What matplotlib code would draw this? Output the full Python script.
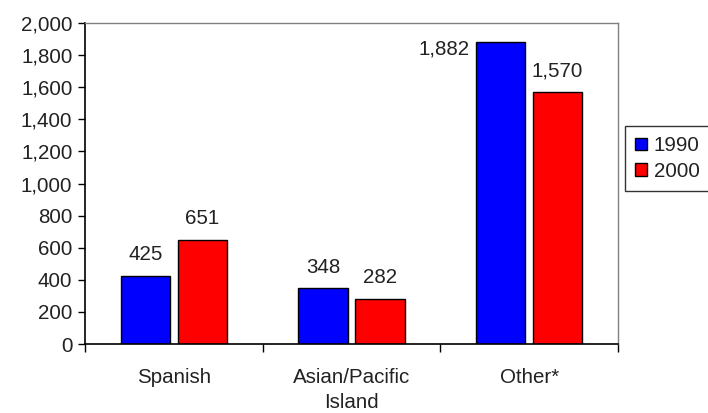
import matplotlib
matplotlib.use("Agg")
import matplotlib.pyplot as plt
import numpy as np
from matplotlib.ticker import FuncFormatter, FixedLocator

categories = ["Spanish", "Asian/Pacific\nIsland", "Other*"]
series_names = ["1990", "2000"]
values_1990 = [425, 348, 1882]
values_2000 = [651, 282, 1570]
yticks = list(range(0, 2001, 200))

plt.rcParams['font.family'] = ['Liberation Sans', 'DejaVu Sans']
FS = 14.8
TXT = '#222222'

fig = plt.figure(figsize=(7.08, 4.13), dpi=100)
ax = fig.add_axes([85/708, (413-344)/413, (618-85)/708, (344-23)/413])

x = np.arange(len(categories))
w = 0.276
gap = 0.045
off = (w + gap) / 2
b1 = ax.bar(x - off, values_1990, w, color='#0000ff', edgecolor='#000000', linewidth=1, label=series_names[0])
b2 = ax.bar(x + off, values_2000, w, color='#ff0000', edgecolor='#000000', linewidth=1, label=series_names[1])

ax.set_xlim(-0.5, len(categories) - 0.5)
ax.set_ylim(0, 2000)
ax.yaxis.set_major_locator(FixedLocator(yticks))
ax.yaxis.set_major_formatter(FuncFormatter(lambda v, p: f"{int(v):,}"))

# category boundary ticks
ax.set_xticks(np.arange(-0.5, len(categories)), minor=False)
ax.set_xticklabels([])
ax.set_xticks(x, minor=True)
ax.set_xticklabels(categories, minor=True, fontsize=FS, color=TXT, linespacing=1.45)
ax.tick_params(axis='x', which='major', direction='out', length=6, width=1, color='black')
ax.tick_params(axis='x', which='minor', length=0, pad=17)
ax.tick_params(axis='y', direction='out', length=5, width=1, color='black', labelsize=FS, labelcolor=TXT, pad=4)

for s in ['left', 'bottom']:
    ax.spines[s].set_color('black')
    ax.spines[s].set_linewidth(1.2)
for s in ['top', 'right']:
    ax.spines[s].set_color('#808080')
    ax.spines[s].set_linewidth(1)

# value labels
for i, (v1, v2) in enumerate(zip(values_1990, values_2000)):
    if v1 > 1800:
        ax.annotate(f"{v1:,}", (x[i] - off - w/2, v1), xytext=(-5, -5), textcoords='offset points',
                    ha='right', va='center', fontsize=FS, color=TXT)
    else:
        ax.annotate(f"{v1:,}", (x[i] - off, v1), xytext=(0, 15), textcoords='offset points',
                    ha='center', va='center', fontsize=FS, color=TXT)
    ax.annotate(f"{v2:,}", (x[i] + off, v2), xytext=(0, 15), textcoords='offset points',
                ha='center', va='center', fontsize=FS, color=TXT)

leg = fig.legend(handles=[b1, b2], labels=series_names, loc='center left',
                 bbox_to_anchor=(625/708, (413-158.5)/413), fontsize=FS,
                 frameon=True, fancybox=False, edgecolor='black', handlelength=0.55,
                 handleheight=0.55, handletextpad=0.35, borderpad=0.5, labelspacing=0.3,
                 borderaxespad=0)
leg.get_frame().set_linewidth(1)
for t in leg.get_texts():
    t.set_color(TXT)

fig.savefig("out.png", dpi=100)
